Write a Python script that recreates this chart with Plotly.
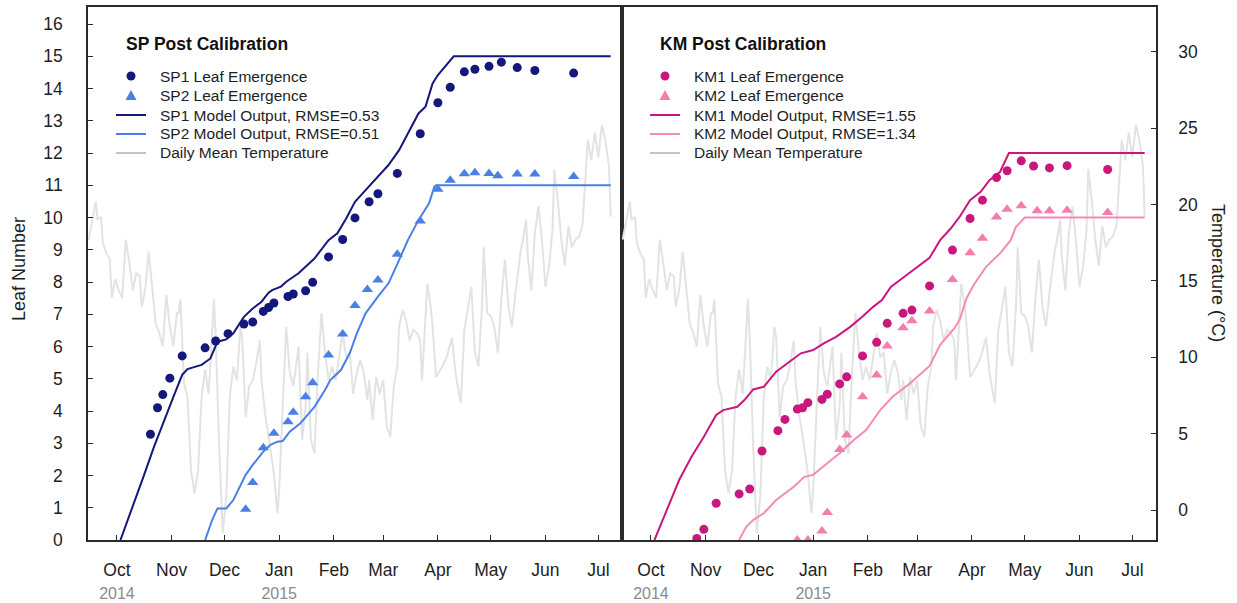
import pandas as pd
import plotly.graph_objects as go

ORIGIN = pd.Timestamp("2014-10-01")


def to_dates(days):
    return [ORIGIN + pd.Timedelta(days=d) for d in days]


# ---------------- data ----------------
# daily mean temperature (degC), day offset from 2014-10-01
temp_day = [-16, -14, -12, -11, -9, -8, -6, -4, -3, -1, 1, 3, 5, 7, 9, 11, 13, 14, 16, 18,
            20, 22, 24, 26, 28, 30, 32, 34, 35, 36, 38, 40, 42, 44, 46, 48, 50, 52, 53, 55,
            56, 58, 60, 62, 64, 66, 68, 70, 71, 73, 75, 77, 79, 81, 82, 84, 86, 89, 91, 92,
            94, 96, 98, 100, 103, 105, 107, 108, 110, 112, 114, 116, 118, 120, 122, 124, 126, 128, 130, 132,
            134, 136, 138, 140, 142, 143, 145, 147, 149, 151, 153, 155, 157, 159, 160, 162, 164, 166, 168, 170,
            172, 173, 176, 178, 179, 181, 183, 185, 187, 190, 192, 195, 197, 199, 201, 203, 205, 207, 208, 210,
            212, 214, 216, 218, 220, 222, 224, 226, 229, 230, 232, 233, 235, 237, 239, 241, 243, 245, 247, 248,
            250, 252, 254, 256, 258, 260, 262, 264, 265, 267, 269, 271, 273, 275, 277, 279, 280]
temp_c = [17.7, 19.0, 20.2, 19.0, 19.2, 17.5, 16.8, 16.4, 13.9, 15.1, 14.4, 13.9, 17.7, 16.2, 14.4, 15.5, 15.3, 13.3, 14.4, 16.9,
          14.4, 12.2, 11.6, 10.7, 14.1, 12.0, 10.7, 12.9, 12.9, 13.8, 8.3, 7.4, 2.6, 1.1, 2.6, 7.4, 9.2, 7.6, 9.6, 13.8,
          11.3, 4.1, -1.5, 0.9, 7.4, 9.4, 8.5, 12.0, 11.3, 6.1, 8.1, 8.5, 9.6, 11.1, 8.5, 6.3, 4.8, 2.4, -0.2, 1.3,
          6.8, 12.0, 9.0, 8.1, 10.7, 4.6, 6.8, 10.3, 4.6, 3.7, 9.0, 12.9, 10.3, 8.5, 9.4, 8.5, 10.0, 11.6, 10.0, 10.3,
          7.6, 9.0, 9.8, 9.0, 7.2, 8.5, 5.9, 8.7, 7.6, 8.5, 5.5, 4.8, 8.1, 9.4, 12.0, 13.1, 12.4, 11.1, 11.8, 11.6,
          11.1, 8.5, 14.8, 13.3, 12.0, 8.7, 9.1, 9.5, 10.0, 11.3, 9.0, 7.0, 11.8, 13.3, 14.6, 10.3, 9.4, 13.3, 17.2, 12.9,
          12.7, 12.0, 10.3, 13.8, 16.4, 13.3, 12.0, 14.2, 17.0, 17.5, 19.0, 16.6, 14.4, 18.1, 19.9, 17.7, 14.6, 15.9, 18.3, 22.3,
          20.3, 17.7, 16.0, 18.6, 17.2, 17.7, 17.9, 18.6, 20.3, 24.2, 22.9, 24.7, 23.1, 25.2, 24.2, 22.5, 19.2]

# SP observations
sp1_dates = ["2014-10-20", "2014-10-24", "2014-10-27", "2014-10-31", "2014-11-07", "2014-11-20", "2014-11-26",
             "2014-12-03", "2014-12-12", "2014-12-17", "2014-12-23", "2014-12-26", "2014-12-29", "2015-01-06",
             "2015-01-09", "2015-01-16", "2015-01-20", "2015-01-29", "2015-02-06", "2015-02-13", "2015-02-21",
             "2015-02-26", "2015-03-09", "2015-03-22", "2015-04-01", "2015-04-08", "2015-04-16", "2015-04-22",
             "2015-04-30", "2015-05-07", "2015-05-16", "2015-05-26", "2015-06-17"]
sp1_leaf = [3.28, 4.10, 4.51, 5.02, 5.71, 5.96, 6.17, 6.40, 6.70, 6.76, 7.09, 7.21, 7.35, 7.55, 7.63, 7.73, 7.99,
            8.78, 9.32, 9.99, 10.49, 10.74, 11.37, 12.60, 13.56, 14.04, 14.52, 14.60, 14.69, 14.82, 14.65, 14.56, 14.48]
sp2_dates = ["2014-12-13", "2014-12-17", "2014-12-23", "2014-12-29", "2015-01-06", "2015-01-09", "2015-01-16",
             "2015-01-20", "2015-01-29", "2015-02-06", "2015-02-13", "2015-02-20", "2015-02-26", "2015-03-09",
             "2015-03-22", "2015-04-01", "2015-04-08", "2015-04-16", "2015-04-22", "2015-04-30", "2015-05-05",
             "2015-05-16", "2015-05-26", "2015-06-17"]
sp2_leaf = [0.95, 1.78, 2.86, 3.31, 3.67, 3.96, 4.44, 4.88, 5.74, 6.39, 7.27, 7.77, 8.06, 8.86, 9.89, 10.88,
            11.16, 11.36, 11.39, 11.37, 11.30, 11.35, 11.35, 11.27]

# SP model output (day offset from 2014-10-01, leaf number)
sp1_model_day = [2, 9, 15, 21, 26, 32, 37, 40, 48, 53, 57, 62, 66, 72, 77, 82, 86, 88, 93, 96, 103, 112, 120,
                 125, 130, 135, 141, 146, 154, 160, 164, 171, 175, 179, 182, 187, 191, 280]
sp1_model_leaf = [0, 1.03, 1.96, 2.89, 3.62, 4.44, 5.12, 5.30, 5.43, 5.63, 6.15, 6.22, 6.41, 6.92, 7.18, 7.39,
                  7.67, 7.75, 7.86, 8.01, 8.27, 8.73, 9.30, 9.51, 9.97, 10.49, 10.85, 11.16, 11.63, 12.09, 12.51,
                  13.23, 13.44, 14.16, 14.42, 14.73, 15.0, 15.0]
sp2_model_day = [50, 54, 57, 62, 66, 73, 77, 83, 87, 91, 94, 98, 104, 108, 112, 118, 121, 127, 132, 136, 141,
                 148, 154, 160, 165, 171, 177, 180, 181, 280]
sp2_model_leaf = [0, 0.62, 0.98, 0.98, 1.24, 2.02, 2.33, 2.74, 2.95, 3.05, 3.07, 3.36, 3.62, 3.88, 4.13, 4.65,
                  4.96, 5.27, 5.79, 6.40, 7.03, 7.55, 7.96, 8.68, 9.30, 9.92, 10.44, 10.96, 11.0, 11.0]

# KM observations
km1_dates = ["2014-10-27", "2014-10-31", "2014-11-07", "2014-11-20", "2014-11-26", "2014-12-03", "2014-12-12",
             "2014-12-16", "2014-12-23", "2014-12-26", "2014-12-29", "2015-01-06", "2015-01-09", "2015-01-16",
             "2015-01-20", "2015-01-29", "2015-02-06", "2015-02-12", "2015-02-21", "2015-02-26", "2015-03-08",
             "2015-03-21", "2015-03-31", "2015-04-07", "2015-04-15", "2015-04-21", "2015-04-29", "2015-05-06",
             "2015-05-15", "2015-05-25", "2015-06-17"]
km1_leaf = [0.05, 0.33, 1.14, 1.43, 1.58, 2.76, 3.39, 3.74, 4.06, 4.10, 4.26, 4.36, 4.52, 4.84, 5.06, 5.71, 6.13,
            6.72, 7.03, 7.13, 7.88, 8.99, 9.97, 10.54, 11.24, 11.45, 11.76, 11.60, 11.54, 11.61, 11.49]
km2_dates = ["2014-12-23", "2014-12-29", "2015-01-06", "2015-01-09", "2015-01-16", "2015-01-20", "2015-01-29",
             "2015-02-06", "2015-02-12", "2015-02-21", "2015-02-26", "2015-03-08", "2015-03-21", "2015-03-31",
             "2015-04-07", "2015-04-15", "2015-04-21", "2015-04-29", "2015-05-08", "2015-05-15", "2015-05-25",
             "2015-06-17"]
km2_leaf = [0.0, 0.0, 0.28, 0.85, 2.81, 3.26, 4.44, 5.12, 6.02, 6.58, 6.80, 7.10, 8.08, 8.91, 9.36, 10.02, 10.26,
            10.37, 10.21, 10.21, 10.23, 10.16]

# KM model output
km1_model_day = [2, 9, 16, 23, 30, 37, 41, 49, 53, 58, 64, 71, 81, 85, 92, 98, 105, 113, 120, 126, 131, 136,
                 145, 153, 158, 164, 170, 175, 181, 187, 192, 198, 203, 280]
km1_model_leaf = [0, 0.93, 1.86, 2.58, 3.20, 3.88, 4.03, 4.13, 4.34, 4.67, 4.75, 5.22, 5.63, 5.79, 5.89, 6.10,
                  6.30, 6.61, 6.93, 7.23, 7.44, 7.85, 8.22, 8.53, 8.75, 9.30, 9.66, 10.02, 10.54, 10.80, 11.16,
                  11.42, 12.0, 12.0]
km2_model_day = [50, 54, 58, 64, 71, 81, 87, 92, 100, 107, 115, 122, 130, 137, 147, 158, 164, 172, 175, 179,
                 183, 190, 198, 204, 207, 212, 280]
km2_model_leaf = [0, 0.41, 0.62, 0.83, 1.24, 1.65, 1.96, 2.02, 2.38, 2.69, 3.10, 3.41, 4.03, 4.44, 4.86, 5.40,
                  6.05, 6.56, 6.82, 7.50, 7.91, 8.47, 8.89, 9.30, 9.71, 10.0, 10.0]

month_ticks = ["2014-10-01", "2014-11-01", "2014-12-01", "2015-01-01", "2015-02-01", "2015-03-01",
               "2015-04-01", "2015-05-01", "2015-06-01", "2015-07-01"]
month_labels = ["Oct", "Nov", "Dec", "Jan", "Feb", "Mar", "Apr", "May", "Jun", "Jul"]
year_labels = {"Oct": "2014", "Jan": "2015"}
leaf_ticks = list(range(0, 17))
temp_ticks = [0, 5, 10, 15, 20, 25, 30]

panel_titles = ["SP Post Calibration", "KM Post Calibration"]
legend_labels = [
    ["SP1 Leaf Emergence", "SP2 Leaf Emergence", "SP1 Model Output, RMSE=0.53",
     "SP2 Model Output, RMSE=0.51", "Daily Mean Temperature"],
    ["KM1 Leaf Emergence", "KM2 Leaf Emergence", "KM1 Model Output, RMSE=1.55",
     "KM2 Model Output, RMSE=1.34", "Daily Mean Temperature"],
]

# ---------------- styles ----------------
FONT = "Liberation Sans, Arial, Helvetica, sans-serif"
TXT = "#1e1e1e"
AX = "#2a2a2a"
TEMP_COL = "#e3e3e3"
C = {"SP1": "#13187a", "SP2": "#4a7fe6", "KM1": "#c9177e", "KM2": "#f58ab6"}
C_TRI = {"SP2": "#4a7fe6", "KM2": "#f47cae"}

W, H = 1237, 603
ML, MR, MT, MB = 88, 81, 7, 63
PW, PH = W - ML - MR, H - MT - MB


def fx(x):
    return (x - ML) / PW


def fy(y):
    return (H - MB - y) / PH


temp_dates = to_dates(temp_day)
fig = go.Figure()

panels = [
    dict(xa="x", ty="y", ly="y2", s1="SP1", s2="SP2",
         d1=sp1_dates, v1=sp1_leaf, d2=sp2_dates, v2=sp2_leaf,
         m1=(sp1_model_day, sp1_model_leaf), m2=(sp2_model_day, sp2_model_leaf)),
    dict(xa="x2", ty="y3", ly="y4", s1="KM1", s2="KM2",
         d1=km1_dates, v1=km1_leaf, d2=km2_dates, v2=km2_leaf,
         m1=(km1_model_day, km1_model_leaf), m2=(km2_model_day, km2_model_leaf)),
]

for p in panels:
    fig.add_trace(go.Scatter(x=temp_dates, y=temp_c, mode="lines", xaxis=p["xa"], yaxis=p["ty"],
                             line=dict(color=TEMP_COL, width=2), showlegend=False, hoverinfo="skip"))
    fig.add_trace(go.Scatter(x=to_dates(p["m1"][0]), y=p["m1"][1], mode="lines", xaxis=p["xa"], yaxis=p["ly"],
                             line=dict(color=C[p["s1"]], width=2), showlegend=False))
    fig.add_trace(go.Scatter(x=to_dates(p["m2"][0]), y=p["m2"][1], mode="lines", xaxis=p["xa"], yaxis=p["ly"],
                             line=dict(color=C[p["s2"]], width=2), showlegend=False))
    fig.add_trace(go.Scatter(x=p["d1"], y=p["v1"], mode="markers", xaxis=p["xa"], yaxis=p["ly"],
                             marker=dict(color=C[p["s1"]], size=9, symbol="circle"), showlegend=False))
    fig.add_trace(go.Scatter(x=p["d2"], y=p["v2"], mode="markers", xaxis=p["xa"], yaxis=p["ly"],
                             marker=dict(color=C_TRI[p["s2"]], size=10, symbol="triangle-up"), showlegend=False))

ticktext = []
for m in month_labels:
    if m in year_labels:
        ticktext.append(f"{m}<br><span style='color:#8a8a8a;font-size:16px'>{year_labels[m]}</span>")
    else:
        ticktext.append(m)

tickfont = dict(family=FONT, size=17.5, color=TXT)
xcommon = dict(type="date", range=["2014-09-14 14:00", "2015-07-14 10:00"], tickvals=month_ticks,
               ticktext=ticktext, ticks="inside", ticklen=5, tickwidth=1.3, tickcolor=AX,
               showline=True, linecolor=AX, linewidth=1.5, mirror=True, showgrid=False, zeroline=False,
               tickfont=tickfont, ticklabelstandoff=13, automargin=False)
temp_range = [-1.96, 32.93]
leaf_range = [0, 16.53]

fig.update_layout(
    width=W, height=H, margin=dict(l=ML, r=MR, t=MT, b=MB, autoexpand=False),
    paper_bgcolor="white", plot_bgcolor="white", showlegend=False,
    font=dict(family=FONT, color=TXT),
    xaxis=dict(domain=[0, 0.5], anchor="y", **xcommon),
    xaxis2=dict(domain=[0.5, 1], anchor="y3", **xcommon),
    yaxis=dict(domain=[0, 1], anchor="x", range=temp_range, visible=False),
    yaxis2=dict(overlaying="y", anchor="x", side="left", range=leaf_range, tickvals=leaf_ticks,
                ticks="inside", ticklen=5, tickwidth=1.3, tickcolor=AX, showline=True, linecolor=AX,
                linewidth=1.5, mirror=True, showgrid=False, zeroline=False, tickfont=tickfont,
                ticklabelstandoff=20, automargin=False),
    yaxis3=dict(domain=[0, 1], anchor="x2", side="right", range=temp_range, tickvals=temp_ticks,
                ticks="inside", ticklen=5, tickwidth=1.3, tickcolor=AX, showline=True, linecolor=AX,
                linewidth=1.5, showgrid=False, zeroline=False, tickfont=tickfont, ticklabelstandoff=17,
                automargin=False),
    yaxis4=dict(overlaying="y3", anchor="x2", side="left", range=leaf_range, showticklabels=False,
                ticks="", showline=True, linecolor=AX, linewidth=1.5, mirror=True, showgrid=False,
                zeroline=False),
)

# ---------- legends (drawn per panel) ----------
shapes = []
annotations = []
row_y = [76, 95.5, 115, 134, 153]
for i, p in enumerate(panels):
    off = i * 534
    annotations.append(dict(text=f"<b>{panel_titles[i]}</b>", xref="paper", yref="paper",
                            x=fx(124 + off), y=fy(44), xanchor="left", yanchor="middle", showarrow=False,
                            font=dict(family=FONT, size=17.5, color="#111")))
    for r, lab in enumerate(legend_labels[i]):
        annotations.append(dict(text=lab, xref="paper", yref="paper", x=fx(158 + off), y=fy(row_y[r]),
                                xanchor="left", yanchor="middle", showarrow=False,
                                font=dict(family=FONT, size=15.5, color=TXT)))
    cx = 131 + off
    # dot
    shapes.append(dict(type="circle", xref="paper", yref="paper", x0=fx(cx - 4.5), x1=fx(cx + 4.5),
                       y0=fy(row_y[0] + 4.5), y1=fy(row_y[0] - 4.5), fillcolor=C[p["s1"]], line=dict(width=0)))
    # triangle
    ty = row_y[1]
    path = (f"M {fx(cx):.5f} {fy(ty - 5.5):.5f} L {fx(cx - 5.5):.5f} {fy(ty + 4.5):.5f} "
            f"L {fx(cx + 5.5):.5f} {fy(ty + 4.5):.5f} Z")
    shapes.append(dict(type="path", xref="paper", yref="paper", path=path, fillcolor=C_TRI[p["s2"]],
                       line=dict(width=0)))
    for r, col in zip([2, 3, 4], [C[p["s1"]], C[p["s2"]], "#c4c4c4"]):
        shapes.append(dict(type="line", xref="paper", yref="paper", x0=fx(116 + off), x1=fx(146 + off),
                           y0=fy(row_y[r]), y1=fy(row_y[r]), line=dict(color=col, width=2)))

annotations.append(dict(text="Leaf Number", xref="paper", yref="paper", x=fx(19), y=fy(269),
                        xanchor="center", yanchor="middle", textangle=-90, showarrow=False,
                        font=dict(family=FONT, size=18, color=TXT)))
annotations.append(dict(text="Temperature (°C)", xref="paper", yref="paper", x=fx(1218), y=fy(273),
                        xanchor="center", yanchor="middle", textangle=90, showarrow=False,
                        font=dict(family=FONT, size=18, color=TXT)))

fig.update_layout(shapes=shapes, annotations=annotations)
fig.write_html("out.html")
